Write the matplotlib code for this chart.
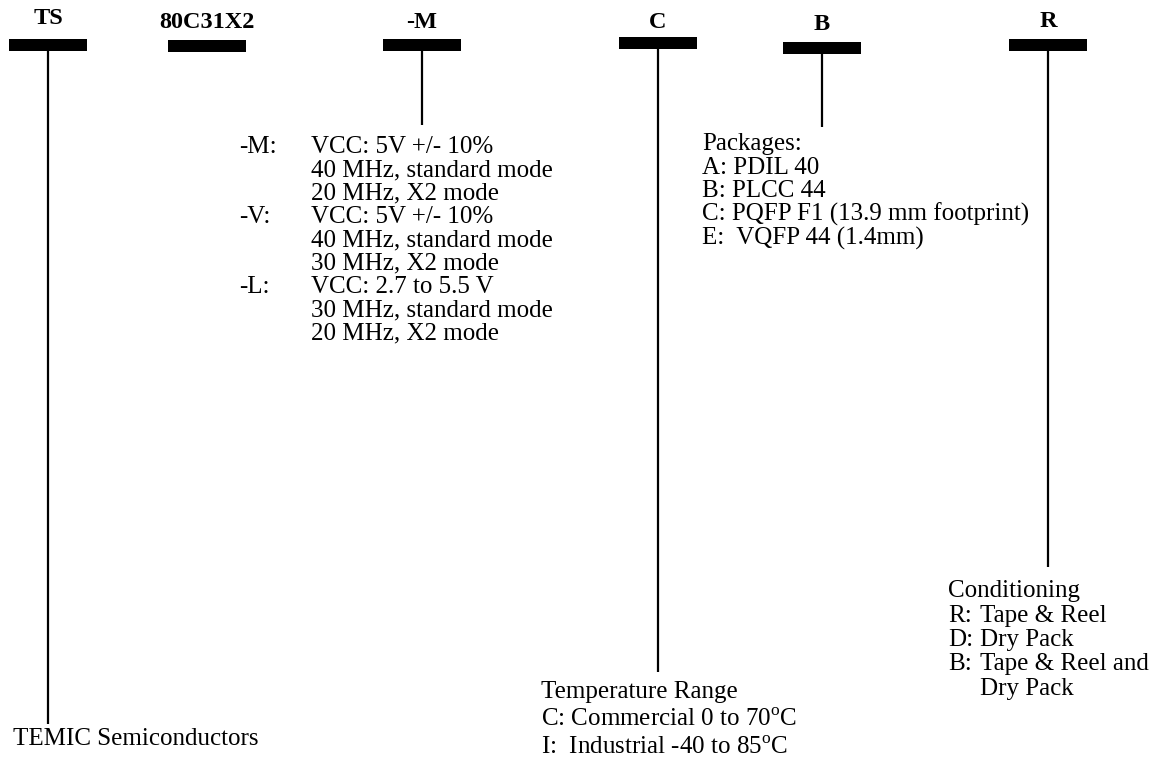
import matplotlib.pyplot as plt

plt.rcParams["font.family"] = ["Liberation Serif", "DejaVu Serif"]
plt.rcParams["mathtext.fontset"] = "custom"
plt.rcParams["mathtext.rm"] = "Liberation Serif"

# ordering code fields (header text) and their layout
fields = ["TS", "80C31X2", "-M", "C", "B", "R"]
field_x = [48, 207, 422, 658, 822, 1048]
field_base = [24, 28, 28, 28, 30, 27]
bar_top = [39, 40, 39, 37, 42, 39]
stem_end = [724, None, 125, 672, 127, 567]

# option blocks
speed_keys = ["-M:", "", "", "-V:", "", "", "-L:", "", ""]
speed_vals = [
    "VCC: 5V +/- 10%",
    "40 MHz, standard mode",
    "20 MHz, X2 mode",
    "VCC: 5V +/- 10%",
    "40 MHz, standard mode",
    "30 MHz, X2 mode",
    "VCC: 2.7 to 5.5 V",
    "30 MHz, standard mode",
    "20 MHz, X2 mode",
]
package_lines = [
    "Packages:",
    "A: PDIL 40",
    "B: PLCC 44",
    "C: PQFP F1 (13.9 mm footprint)",
    "E:  VQFP 44 (1.4mm)",
]
temp_lines = [
    "Temperature Range",
    r"C: Commercial 0 to 70$^{\mathrm{o}}$C",
    r"I:  Industrial -40 to 85$^{\mathrm{o}}$C",
]
cond_keys = ["R:", "D:", "B:", ""]
cond_vals = ["Tape & Reel", "Dry Pack", "Tape & Reel and", "Dry Pack"]
manufacturer = "TEMIC Semiconductors"


def main() -> None:
    fig = plt.figure(figsize=(11.5, 7.59), dpi=100)
    ax = fig.add_axes([0, 0, 1, 1])
    ax.set_xlim(0, 1150)
    ax.set_ylim(759, 0)
    ax.axis("off")

    # header codes, bars and stems
    for name, x, base, top, end in zip(fields, field_x, field_base, bar_top, stem_end):
        ax.text(x, base, name, ha="center", va="baseline", fontsize=17.5,
                fontweight="bold")
        ax.bar(x, 12, bottom=top, width=78, color="black")
        if end is not None:
            ax.vlines(x, top + 12, end, color="black", lw=1.6)

    fs = 18

    # speed / voltage options
    for i, (k, v) in enumerate(zip(speed_keys, speed_vals)):
        y = 153 + i * 23.3
        ax.text(239, y, k, va="baseline", fontsize=fs)
        ax.text(311, y, v, va="baseline", fontsize=fs)

    # packages
    for i, s in enumerate(package_lines):
        ax.text(702, 150 + i * 23.6, s, va="baseline", fontsize=fs)

    # temperature range
    for i, s in enumerate(temp_lines):
        ax.text(541, 698 + i * 28, s, va="baseline", fontsize=fs)

    # conditioning
    ax.text(948, 597, "Conditioning", va="baseline", fontsize=fs)
    for i, (k, v) in enumerate(zip(cond_keys, cond_vals)):
        y = 622 + i * 24.2
        ax.text(948, y, k, va="baseline", fontsize=fs)
        ax.text(980, y, v, va="baseline", fontsize=fs)

    ax.text(13, 745, manufacturer, va="baseline", fontsize=fs)

    fig.savefig("out.png", dpi=100)


if __name__ == "__main__":
    main()
